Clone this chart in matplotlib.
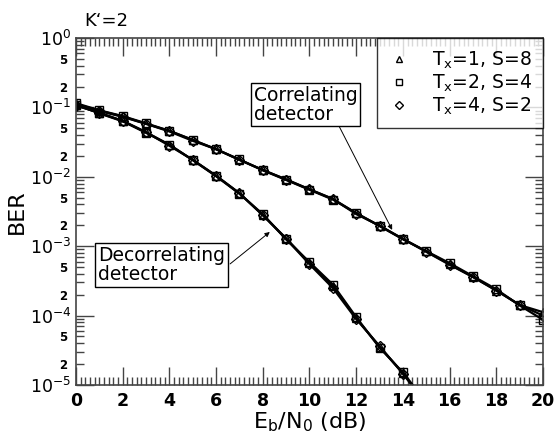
import numpy as np
import matplotlib
matplotlib.use("Agg")
import matplotlib.pyplot as plt
from matplotlib.ticker import LogLocator, FuncFormatter, MultipleLocator, NullFormatter

plt.rcParams['font.family'] = ['DejaVu Sans']
plt.rcParams['mathtext.fontset'] = 'dejavusans'

# Eb/N0 in dB
snr_db = np.arange(0, 21)
snr_db_dec = np.arange(0, 16)

# correlating detector, one list per (Tx, S)
corr_tx1 = [0.112, 0.090, 0.074, 0.058, 0.046, 0.034, 0.025, 0.0175, 0.0125, 0.0092, 0.0066,
            0.0048, 0.0030, 0.00197, 0.00128, 0.00084, 0.00055, 0.00036, 0.00023, 0.000142, 0.000112]
corr_tx2 = [0.115, 0.091, 0.075, 0.059, 0.046, 0.034, 0.025, 0.0178, 0.0124, 0.0090, 0.0065,
            0.0047, 0.0030, 0.00195, 0.00126, 0.00085, 0.00057, 0.00037, 0.00024, 0.000140, 0.000087]
corr_tx4 = [0.110, 0.089, 0.073, 0.058, 0.045, 0.033, 0.025, 0.0176, 0.0126, 0.0091, 0.0066,
            0.0048, 0.0029, 0.00198, 0.00127, 0.00083, 0.00054, 0.00036, 0.00023, 0.000143, 0.000100]

# decorrelating detector
dec_tx1 = [0.108, 0.083, 0.064, 0.044, 0.029, 0.0175, 0.0103, 0.0058, 0.0028, 0.00130,
           0.00057, 0.00027, 0.000092, 0.0000355, 0.0000148, 0.0000055]
dec_tx2 = [0.110, 0.082, 0.063, 0.043, 0.029, 0.0174, 0.0102, 0.0057, 0.0029, 0.00125,
           0.00059, 0.00028, 0.000095, 0.0000345, 0.0000152, 0.0000056]
dec_tx4 = [0.106, 0.084, 0.064, 0.044, 0.028, 0.0176, 0.0104, 0.0058, 0.0028, 0.00128,
           0.00055, 0.00025, 0.000089, 0.0000365, 0.0000145, 0.0000054]

labels = [r'T$_\mathregular{x}$=1, S=8', r'T$_\mathregular{x}$=2, S=4', r'T$_\mathregular{x}$=4, S=2']
markers = ['^', 's', 'D']

fig = plt.figure(figsize=(5.57, 4.34), dpi=100)
ax = fig.add_axes([0.1364, 0.1129, 0.8385, 0.7995])

for corr, dec, m, lab in zip([corr_tx1, corr_tx2, corr_tx4], [dec_tx1, dec_tx2, dec_tx4], markers, labels):
    ms = 6 if m != 'D' else 5
    ax.plot(snr_db, corr, color='black', lw=1.6, marker=m, ms=ms, mfc='none', mec='black', mew=1.0)
    ax.plot(snr_db_dec, dec, color='black', lw=1.6, marker=m, ms=ms, mfc='none', mec='black', mew=1.0)
    ax.plot([], [], ls='none', marker=m, ms=ms - 1, mfc='none', mec='black', mew=1.0, label=lab)

ax.set_yscale('log')
ax.set_xlim(0, 20)
ax.set_ylim(1e-5, 1)

ax.xaxis.set_major_locator(MultipleLocator(2))
ax.xaxis.set_minor_locator(MultipleLocator(0.2))
ax.yaxis.set_major_locator(LogLocator(base=10, numticks=10))
ax.yaxis.set_minor_locator(LogLocator(base=10, subs=np.arange(2, 10), numticks=20))


def major_fmt(v, pos):
    return r'$10^{%d}$' % int(round(np.log10(v)))


def minor_fmt(v, pos):
    mant = v / 10 ** np.floor(np.log10(v) + 1e-9)
    m = int(round(mant))
    return str(m) if m in (2, 5) else ''


ax.yaxis.set_major_formatter(FuncFormatter(major_fmt))
ax.yaxis.set_minor_formatter(FuncFormatter(minor_fmt))
ax.xaxis.set_minor_formatter(NullFormatter())

ax.tick_params(which='both', direction='in', top=True, right=True, color='#444444')
ax.tick_params(which='major', length=13, width=1.0, labelsize=12.5)
ax.tick_params(which='minor', length=6, width=1.0)
ax.tick_params(axis='y', which='minor', labelsize=8.5, pad=6)
ax.tick_params(axis='x', which='major', pad=5)
for t in ax.get_xticklabels() + ax.get_yticklabels(which='minor'):
    t.set_fontweight('bold')
for s in ax.spines.values():
    s.set_color('#444444')
    s.set_linewidth(1.2)

ax.set_xlabel(r'E$_\mathregular{b}$/N$_\mathregular{0}$ (dB)', fontsize=16, labelpad=0)
ax.set_ylabel('BER', fontsize=16, labelpad=2)

leg = ax.legend(loc='upper right', fontsize=13.5, frameon=True, fancybox=False,
                borderaxespad=0, handlelength=1.1, handletextpad=1.2, labelspacing=0.1,
                borderpad=0.6, markerscale=1.0)
leg.get_frame().set_edgecolor('black')
leg.get_frame().set_linewidth(1.0)

box = dict(boxstyle='square,pad=0.15', facecolor='white', edgecolor='black', linewidth=1.0)
ax.text(0.381, 0.863, 'Correlating\ndetector', transform=ax.transAxes, fontsize=13.5,
        ha='left', va='top', linespacing=1.0, bbox=box, zorder=5)
ax.text(0.047, 0.401, 'Decorrelating\ndetector', transform=ax.transAxes, fontsize=13.5,
        ha='left', va='top', linespacing=1.0, bbox=box, zorder=5)

arrow = dict(arrowstyle='-|>', color='black', lw=0.7, mutation_scale=7, shrinkA=0, shrinkB=0)
ax.annotate('', xy=(0.677, 0.447), xytext=(0.561, 0.752), xycoords='axes fraction',
            textcoords='axes fraction', arrowprops=arrow)
ax.annotate('', xy=(0.415, 0.441), xytext=(0.330, 0.349), xycoords='axes fraction',
            textcoords='axes fraction', arrowprops=arrow)

fig.text(0.152, 0.94, 'K\u2018=2', fontsize=13, va='baseline')

fig.savefig('out.png', dpi=100)
